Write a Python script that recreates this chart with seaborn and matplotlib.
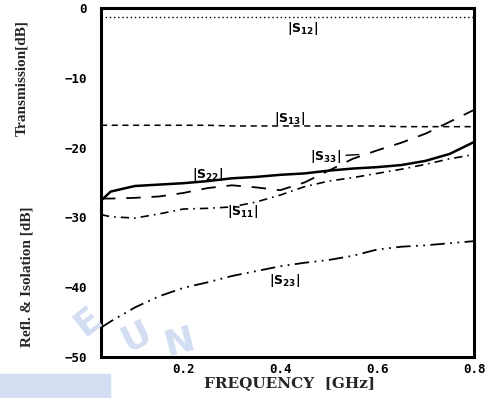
import matplotlib
matplotlib.use("Agg")
import numpy as np
import pandas as pd
import matplotlib.pyplot as plt
import seaborn as sns
from matplotlib.patches import Rectangle

# frequency points (GHz)
freq = [0.03, 0.05, 0.10, 0.15, 0.20, 0.25, 0.30, 0.35, 0.40,
        0.45, 0.50, 0.55, 0.60, 0.65, 0.70, 0.75, 0.80]

# transmission
s12 = [-1.3, -1.3, -1.3, -1.3, -1.3, -1.3, -1.3, -1.3, -1.3,
       -1.3, -1.3, -1.3, -1.3, -1.3, -1.3, -1.3, -1.3]
s13 = [-16.8, -16.8, -16.8, -16.8, -16.8, -16.8, -16.9, -16.9, -16.9,
       -16.9, -16.9, -16.9, -16.9, -17.0, -17.0, -17.0, -17.0]

# reflection
s22 = [-27.6, -26.3, -25.5, -25.3, -25.1, -24.8, -24.4, -24.2, -23.9,
       -23.7, -23.3, -23.0, -22.8, -22.5, -21.9, -20.9, -19.2]
s33 = [-27.3, -27.3, -27.2, -27.0, -26.5, -25.8, -25.4, -25.7, -26.1,
       -25.0, -23.3, -21.6, -20.4, -19.3, -18.0, -16.3, -14.6]
s11 = [-29.6, -29.9, -30.1, -29.5, -28.8, -28.7, -28.5, -27.8, -26.8,
       -25.6, -24.8, -24.3, -23.7, -23.1, -22.4, -21.6, -21.0]

# isolation
s23 = [-45.8, -44.9, -42.9, -41.3, -40.1, -39.3, -38.4, -37.7, -37.0,
       -36.5, -36.1, -35.5, -34.6, -34.2, -34.0, -33.7, -33.4]

xticks = [0.2, 0.4, 0.6, 0.8]
yticks = [0, -10, -20, -30, -40, -50]

df = pd.DataFrame({"freq": freq, "s12": s12, "s13": s13, "s22": s22,
                   "s33": s33, "s11": s11, "s23": s23})

sns.set_style("white")
plt.rcParams["font.family"] = ["DejaVu Sans"]

fig = plt.figure(figsize=(4.89, 3.98), dpi=100)
ax = fig.add_axes([101 / 489, 1 - 357 / 398, 373 / 489, 349 / 398])

# line styles roughly like the plotter pens
styles = {
    "s12": dict(linestyle=(0, (1, 2)), linewidth=1.0),
    "s13": dict(linestyle=(0, (4, 3)), linewidth=1.1),
    "s22": dict(linestyle="-", linewidth=1.8),
    "s33": dict(linestyle=(0, (8, 6)), linewidth=1.3),
    "s11": dict(linestyle=(0, (5, 3, 1, 3)), linewidth=1.2),
    "s23": dict(linestyle=(0, (8, 3, 1, 3, 1, 3)), linewidth=1.3),
}
for col, kw in styles.items():
    sns.lineplot(data=df, x="freq", y=col, ax=ax, color="black", **kw)

ax.set_xlim(0.03, 0.8)
ax.set_ylim(-50, 0)
ax.set_xticks(xticks)
ax.set_yticks(yticks)
ax.set_xlabel("")
ax.set_ylabel("")
for sp in ax.spines.values():
    sp.set_linewidth(2.2)
    sp.set_color("black")
ax.tick_params(direction="in", length=3, width=1.2, colors="black")
ax.tick_params(axis="y", pad=10)
ax.tick_params(axis="x", pad=4)
for lab in ax.get_xticklabels() + ax.get_yticklabels():
    lab.set_family("DejaVu Sans Mono")
    lab.set_weight("bold")
    lab.set_fontsize(9)

# curve labels
lab_kw = dict(ha="center", va="center", fontsize=9, color="black")
ax.text(0.447, -2.9, r"$\mathbf{|S_{12}|}$", **lab_kw)
ax.text(0.42, -15.8, r"$\mathbf{|S_{13}|}$", **lab_kw)
ax.text(0.251, -23.8, r"$\mathbf{|S_{22}|}$", **lab_kw)
ax.text(0.494, -21.3, r"$\mathbf{|S_{33}|}$", **lab_kw)
ax.plot([0.536, 0.562], [-21.1, -21.0], color="black", linewidth=1.0)
ax.text(0.323, -29.2, r"$\mathbf{|S_{11}|}$", **lab_kw)
ax.text(0.41, -39.0, r"$\mathbf{|S_{23}|}$", **lab_kw)

# axis titles
fig.text(290 / 489, 1 - 383 / 398, "FREQUENCY  [GHz]", ha="center", va="center",
         family="DejaVu Serif", weight="bold", fontsize=11)
fig.text(22 / 489, 1 - 78 / 398, "Transmission[dB]", rotation=90, ha="center",
         va="center", family="Liberation Serif", weight="bold", fontsize=11)
fig.text(27 / 489, 1 - 277 / 398, "Refl. & Isolation [dB]", rotation=90,
         ha="center", va="center", family="Liberation Serif", weight="bold",
         fontsize=11)

# faint scan watermark in the lower left
wm = "#d3def2"
fig.patches.append(Rectangle((0, 0), 110 / 489, 24 / 398, transform=fig.transFigure,
                             color=wm, zorder=0))
for ch, px, py, rot in [("E", 88, 322, 38), ("U", 136, 336, 26), ("N", 180, 342, 15)]:
    fig.text(px / 489, 1 - py / 398, ch, rotation=rot, ha="center", va="center",
             fontsize=26, weight="bold", color=wm, zorder=0)

fig.savefig("out.png", dpi=100)
